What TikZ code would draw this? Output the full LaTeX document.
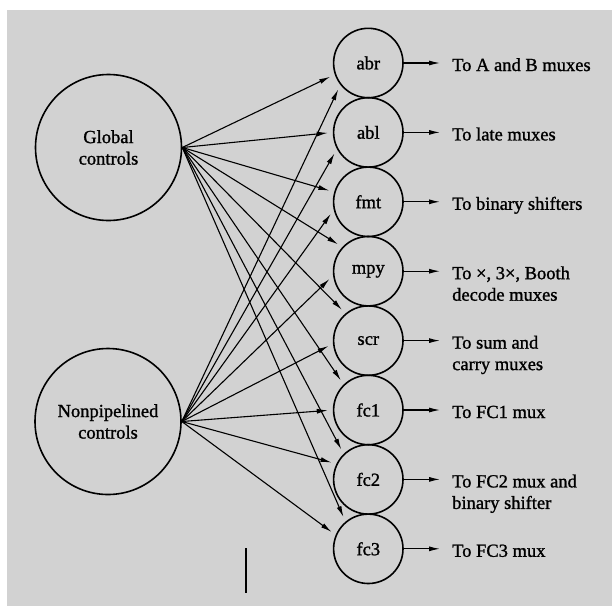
\documentclass[tikz,border=0pt]{standalone}
\usepackage{fontspec}
\setmainfont{Liberation Serif}
\newfontfamily\scanserif[FakeBold=1.2]{Liberation Serif}
\usetikzlibrary{arrows.meta}
\definecolor{bggray}{RGB}{210,210,210}
\begin{document}
\begin{tikzpicture}[x=1pt,y=-1pt,
  txt/.style={font=\scanserif\fontsize{18.5}{21.5}\selectfont},
  big/.style={circle,draw,line width=1.6pt,minimum size=146pt,inner sep=0pt,txt,align=center},
  small/.style={circle,draw,line width=1.6pt,minimum size=69.4pt,inner sep=0pt,txt},
  inarr/.style={line width=1.1pt,-{Latex[length=11pt,width=5pt]},shorten >=5pt},
  outarr/.style={line width=1.1pt,-{Latex[length=11pt,width=5pt]},shorten >=12pt},
  lab/.style={txt,anchor=base west,inner sep=0pt,align=left},
  straymark/.style={line width=1.6pt}]
\useasboundingbox (0,0) rectangle (612,606);
\fill[bggray] (7,10) rectangle (612,606);
% big circles
\node[big] (g) at (108.5,147.5) {Global\\controls};
\node[big] (n) at (108,421.5) {Nonpipelined\\controls};
% small circles
\node[small] (abr) at (368.3,63)    {abr};
\node[small] (abl) at (368.3,132.4) {abl};
\node[small] (fmt) at (368.3,201.8) {fmt};
\node[small] (mpy) at (368.3,271.2) {mpy};
\node[small] (scr) at (368.3,340.6) {scr};
\node[small] (fc1) at (368.3,410)   {fc1};
\node[small] (fc2) at (368.3,479.4) {fc2};
\node[small] (fc3) at (368.3,548.8) {fc3};
% labels (base anchor of a two-line label is its last line)
\node[lab] (l1) at (452,71)    {To A and B muxes};
\node[lab] (l2) at (452,140.4) {To late muxes};
\node[lab] (l3) at (452,209.8) {To binary shifters};
\node[lab] (l4) at (452,300.7) {To ×, 3×, Booth\\decode muxes};
\node[lab] (l5) at (452,370.1) {To sum and\\carry muxes};
\node[lab] (l6) at (452,418)   {To FC1 mux};
\node[lab] (l7) at (452,508.9) {To FC2 mux and\\binary shifter};
\node[lab] (l8) at (452,556.8) {To FC3 mux};
% output arrows
\draw[outarr] (abr.east) -- (abr.east -| l1.west);
\draw[outarr] (abl.east) -- (abl.east -| l2.west);
\draw[outarr] (fmt.east) -- (fmt.east -| l3.west);
\draw[outarr] (mpy.east) -- (mpy.east -| l4.west);
\draw[outarr] (scr.east) -- (scr.east -| l5.west);
\draw[outarr] (fc1.east) -- (fc1.east -| l6.west);
\draw[outarr] (fc2.east) -- (fc2.east -| l7.west);
\draw[outarr] (fc3.east) -- (fc3.east -| l8.west);
% global controls fan-out
\draw[inarr] (g.east) -- (abr.199);
\draw[inarr] (g.east) -- (abl.180);
\draw[inarr] (g.east) -- (fmt.164);
\draw[inarr] (g.east) -- (mpy.137);
\draw[inarr] (g.east) -- (scr.130);
\draw[inarr] (g.east) -- (fc1.134);
\draw[inarr] (g.east) -- (fc2.134);
\draw[inarr] (g.east) -- (fc3.130);
% nonpipelined controls fan-out
\draw[inarr] (n.east) -- (abr.218);
\draw[inarr] (n.east) -- (abl.208);
\draw[inarr] (n.east) -- (fmt.193);
\draw[inarr] (n.east) -- (mpy.187);
\draw[inarr] (n.east) -- (scr.185);
\draw[inarr] (n.east) -- (fc1.180);
\draw[inarr] (n.east) -- (fc2.154);
\draw[inarr] (n.east) -- (fc3.157);
% stray vertical mark
\coordinate (m1) at (246,548);
\coordinate (m2) at (246,593);
\draw[straymark] (m1) -- (m2);
\end{tikzpicture}
\end{document}
